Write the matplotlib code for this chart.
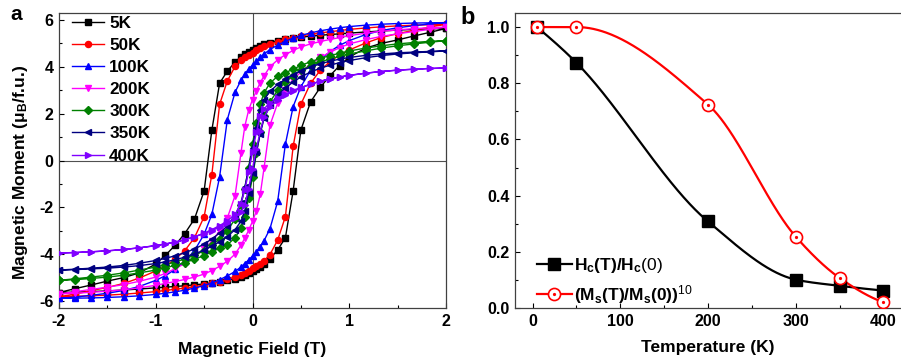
import numpy as np
import matplotlib
matplotlib.use('Agg')
import matplotlib.pyplot as plt
from matplotlib.ticker import MultipleLocator, FormatStrFormatter
from matplotlib.legend_handler import HandlerTuple
from matplotlib.lines import Line2D

plt.rcParams['font.family'] = ['Liberation Sans', 'DejaVu Sans']
plt.rcParams['font.weight'] = 'bold'
plt.rcParams['axes.unicode_minus'] = False
plt.rcParams['mathtext.fontset'] = 'custom'
plt.rcParams['mathtext.rm'] = 'Liberation Sans:normal'
plt.rcParams['mathtext.bf'] = 'Liberation Sans:bold'
plt.rcParams['mathtext.it'] = 'Liberation Sans:italic'

# ---------------- panel a data ----------------
temps = ['5K', '50K', '100K', '200K', '300K', '350K', '400K']
colors = ['#000000', '#FF0000', '#0000FF', '#FF00FF', '#008000', '#000080', '#8000FF']
markers = ['s', 'o', '^', 'v', 'D', '<', '>']

H_down = [2.0, 1.83, 1.67, 1.5, 1.33, 1.17, 1.0, 0.9, 0.8, 0.7, 0.6, 0.5, 0.42, 0.34,
          0.26, 0.18, 0.12, 0.08, 0.04, 0.0, -0.04, -0.08, -0.12, -0.18, -0.26, -0.34,
          -0.42, -0.5, -0.6, -0.7, -0.8, -0.9, -1.0, -1.17, -1.33, -1.5, -1.67, -1.83, -2.0]
H_up = [-2.0, -1.83, -1.67, -1.5, -1.33, -1.17, -1.0, -0.9, -0.8, -0.7, -0.6, -0.5, -0.42, -0.34,
        -0.26, -0.18, -0.12, -0.08, -0.04, 0.0, 0.04, 0.08, 0.12, 0.18, 0.26, 0.34,
        0.42, 0.5, 0.6, 0.7, 0.8, 0.9, 1.0, 1.17, 1.33, 1.5, 1.67, 1.83, 2.0]

M_down_5K = [5.64, 5.62, 5.60, 5.57, 5.53, 5.49, 5.44, 5.41, 5.38, 5.35, 5.31, 5.27, 5.23, 5.18,
             5.12, 5.04, 4.96, 4.90, 4.82, 4.73, 4.63, 4.53, 4.42, 4.20, 3.82, 3.30,
             1.30, -1.30, -2.50, -3.12, -3.62, -4.05, -4.42, -4.80, -5.00, -5.15, -5.32, -5.47, -5.64]
M_up_5K = [-5.64, -5.62, -5.60, -5.57, -5.53, -5.49, -5.44, -5.41, -5.38, -5.35, -5.31, -5.27, -5.23, -5.18,
           -5.12, -5.04, -4.96, -4.90, -4.82, -4.73, -4.63, -4.53, -4.42, -4.20, -3.82, -3.30,
           -1.30, 1.30, 2.50, 3.12, 3.62, 4.05, 4.42, 4.80, 5.00, 5.15, 5.32, 5.47, 5.64]

M_down_50K = [5.82, 5.80, 5.78, 5.75, 5.71, 5.66, 5.60, 5.55, 5.50, 5.45, 5.39, 5.32, 5.25, 5.17,
              5.08, 4.97, 4.87, 4.79, 4.70, 4.60, 4.50, 4.40, 4.28, 4.02, 3.40, 2.40,
              -0.60, -2.40, -3.30, -3.85, -4.22, -4.50, -4.72, -5.02, -5.25, -5.42, -5.56, -5.70, -5.82]
M_up_50K = [-5.82, -5.80, -5.78, -5.75, -5.71, -5.66, -5.60, -5.55, -5.50, -5.45, -5.39, -5.32, -5.25, -5.17,
            -5.08, -4.97, -4.87, -4.79, -4.70, -4.60, -4.50, -4.40, -4.28, -4.02, -3.40, -2.40,
            0.60, 2.40, 3.30, 3.85, 4.22, 4.50, 4.72, 5.02, 5.25, 5.42, 5.56, 5.70, 5.82]

M_down_100K = [5.89, 5.88, 5.87, 5.85, 5.82, 5.78, 5.72, 5.67, 5.61, 5.54, 5.45, 5.34, 5.23, 5.09,
               4.93, 4.74, 4.55, 4.40, 4.25, 4.08, 3.90, 3.68, 3.42, 2.92, 1.75, -0.70,
               -2.30, -3.15, -3.85, -4.30, -4.65, -4.92, -5.12, -5.38, -5.55, -5.67, -5.76, -5.83, -5.89]
M_up_100K = [-5.89, -5.88, -5.87, -5.85, -5.82, -5.78, -5.72, -5.67, -5.61, -5.54, -5.45, -5.34, -5.23, -5.09,
             -4.93, -4.74, -4.55, -4.40, -4.25, -4.08, -3.90, -3.68, -3.42, -2.92, -1.75, 0.70,
             2.30, 3.15, 3.85, 4.30, 4.65, 4.92, 5.12, 5.38, 5.55, 5.67, 5.76, 5.83, 5.89]

M_down_200K = [5.70, 5.67, 5.63, 5.58, 5.52, 5.44, 5.33, 5.25, 5.17, 5.08, 4.98, 4.85, 4.70, 4.52,
               4.30, 4.00, 3.62, 3.32, 2.98, 2.60, 2.15, 1.45, 0.30, -1.50, -2.45, -3.00,
               -3.45, -3.78, -4.12, -4.40, -4.62, -4.82, -4.98, -5.16, -5.30, -5.41, -5.51, -5.60, -5.70]
M_up_200K = [-5.70, -5.67, -5.63, -5.58, -5.52, -5.44, -5.33, -5.25, -5.17, -5.08, -4.98, -4.85, -4.70, -4.52,
             -4.30, -4.00, -3.62, -3.32, -2.98, -2.60, -2.15, -1.45, -0.30, 1.50, 2.45, 3.00,
             3.45, 3.78, 4.12, 4.40, 4.62, 4.82, 4.98, 5.16, 5.30, 5.41, 5.51, 5.60, 5.70]

M_down_300K = [5.12, 5.09, 5.04, 4.98, 4.90, 4.80, 4.68, 4.58, 4.48, 4.36, 4.22, 4.06, 3.90, 3.75,
               3.60, 3.30, 2.90, 2.40, 1.60, 0.70, -0.30, -1.20, -1.90, -2.50, -3.00, -3.35,
               -3.62, -3.85, -4.05, -4.20, -4.34, -4.45, -4.55, -4.68, -4.80, -4.90, -4.98, -5.05, -5.12]
M_up_300K = [-5.12, -5.09, -5.04, -4.98, -4.90, -4.80, -4.68, -4.58, -4.48, -4.36, -4.22, -4.06, -3.90, -3.75,
             -3.60, -3.30, -2.90, -2.40, -1.60, -0.70, 0.30, 1.20, 1.90, 2.50, 3.00, 3.35,
             3.62, 3.85, 4.05, 4.20, 4.34, 4.45, 4.55, 4.68, 4.80, 4.90, 4.98, 5.05, 5.12]

M_down_350K = [4.68, 4.66, 4.63, 4.60, 4.55, 4.49, 4.40, 4.33, 4.24, 4.13, 3.99, 3.83, 3.66, 3.47,
               3.25, 2.95, 2.60, 2.15, 1.40, 0.55, -0.35, -1.15, -1.80, -2.35, -2.80, -3.10,
               -3.35, -3.57, -3.78, -3.94, -4.07, -4.18, -4.27, -4.39, -4.48, -4.55, -4.60, -4.64, -4.68]
M_up_350K = [-4.68, -4.66, -4.63, -4.60, -4.55, -4.49, -4.40, -4.33, -4.24, -4.13, -3.99, -3.83, -3.66, -3.47,
             -3.25, -2.95, -2.60, -2.15, -1.40, -0.55, 0.35, 1.15, 1.80, 2.35, 2.80, 3.10,
             3.35, 3.57, 3.78, 3.94, 4.07, 4.18, 4.27, 4.39, 4.48, 4.55, 4.60, 4.64, 4.68]

M_down_400K = [3.95, 3.93, 3.90, 3.86, 3.80, 3.73, 3.64, 3.57, 3.49, 3.39, 3.26, 3.12, 3.00, 2.84,
               2.66, 2.45, 2.22, 1.90, 1.20, 0.35, -0.50, -1.25, -1.85, -2.30, -2.58, -2.78,
               -2.95, -3.10, -3.26, -3.38, -3.48, -3.56, -3.63, -3.73, -3.80, -3.86, -3.90, -3.93, -3.95]
M_up_400K = [-3.95, -3.93, -3.90, -3.86, -3.80, -3.73, -3.64, -3.57, -3.49, -3.39, -3.26, -3.12, -3.00, -2.84,
             -2.66, -2.45, -2.22, -1.90, -1.20, -0.35, 0.50, 1.25, 1.85, 2.30, 2.58, 2.78,
             2.95, 3.10, 3.26, 3.38, 3.48, 3.56, 3.63, 3.73, 3.80, 3.86, 3.90, 3.93, 3.95]

M_down = [M_down_5K, M_down_50K, M_down_100K, M_down_200K, M_down_300K, M_down_350K, M_down_400K]
M_up = [M_up_5K, M_up_50K, M_up_100K, M_up_200K, M_up_300K, M_up_350K, M_up_400K]

# ---------------- panel b data ----------------
T = [5, 50, 200, 300, 350, 400]
Hc_ratio = [1.0, 0.873, 0.308, 0.101, 0.079, 0.062]
Ms_ratio10 = [1.0, 1.0, 0.724, 0.254, 0.107, 0.020]


def pchip(x, y, xs):
    x = np.asarray(x, float)
    y = np.asarray(y, float)
    h = np.diff(x)
    d = np.diff(y) / h
    n = len(x)
    m = np.zeros(n)
    for k in range(1, n - 1):
        if d[k - 1] * d[k] > 0:
            w1 = 2 * h[k] + h[k - 1]
            w2 = h[k] + 2 * h[k - 1]
            m[k] = (w1 + w2) / (w1 / d[k - 1] + w2 / d[k])

    def end(h0, h1, d0, d1):
        mm = ((2 * h0 + h1) * d0 - h0 * d1) / (h0 + h1)
        if np.sign(mm) != np.sign(d0):
            mm = 0.0
        elif np.sign(d0) != np.sign(d1) and abs(mm) > abs(3 * d0):
            mm = 3 * d0
        return mm
    m[0] = end(h[0], h[1], d[0], d[1])
    m[-1] = end(h[-1], h[-2], d[-1], d[-2])
    idx = np.clip(np.searchsorted(x, xs) - 1, 0, n - 2)
    t = (xs - x[idx]) / h[idx]
    h00 = 2 * t**3 - 3 * t**2 + 1
    h10 = t**3 - 2 * t**2 + t
    h01 = -2 * t**3 + 3 * t**2
    h11 = t**3 - t**2
    return h00 * y[idx] + h10 * h[idx] * m[idx] + h01 * y[idx + 1] + h11 * h[idx] * m[idx + 1]


fig = plt.figure(figsize=(9.01, 3.63), dpi=100)
W, Hh = 901.0, 363.0
axa = fig.add_axes([59 / W, 1 - 308 / Hh, (446 - 59) / W, (308 - 13) / Hh])
axb = fig.add_axes([515 / W, 1 - 308 / Hh, (901 - 515) / W, (308 - 13) / Hh])

# ---- panel a ----
axa.axhline(0, color='#505050', lw=0.8, zorder=1)
axa.axvline(0, color='#505050', lw=0.8, zorder=1)
for i in range(len(temps)):
    xs = H_down + H_up
    ys = M_down[i] + M_up[i]
    axa.plot(xs, ys, color=colors[i], marker=markers[i], ms=4.4 if markers[i] != 'D' else 3.8,
             lw=1.0, mec=colors[i], mfc=colors[i], label=temps[i], zorder=2 + i)
axa.set_xlim(-2, 2)
axa.set_ylim(-6.3, 6.3)
axa.xaxis.set_major_locator(MultipleLocator(1))
axa.xaxis.set_minor_locator(MultipleLocator(0.5))
axa.yaxis.set_major_locator(MultipleLocator(2))
axa.yaxis.set_minor_locator(MultipleLocator(1))
axa.set_xlabel('Magnetic Field (T)', fontsize=12.5, fontweight='bold', labelpad=10)
axa.set_ylabel('Magnetic Moment (μ$_\\mathbf{B}$/f.u.)', fontsize=12.5, fontweight='bold')
axa.yaxis.set_label_coords(-0.075, 0.46)
axa.legend(loc='upper left', frameon=False, fontsize=12.3, handlelength=1.85,
           handletextpad=0.3, labelspacing=0.42, borderaxespad=0.0, borderpad=0.15,
           bbox_to_anchor=(0.028, 1.0))

# ---- panel b ----
Ts = np.linspace(T[0], T[-1], 400)
axb.plot(Ts, pchip(T, Hc_ratio, Ts), color='black', lw=1.6, zorder=2)
axb.plot(Ts, pchip(T, Ms_ratio10, Ts), color='red', lw=1.6, zorder=3)
axb.plot(T, Hc_ratio, ls='none', color='black', marker='s', ms=8.2, mfc='black',
         mec='black', zorder=4)
axb.plot(T, Ms_ratio10, ls='none', color='red', marker='o', ms=8.7, mfc='white',
         mec='red', mew=1.2, zorder=5)
axb.plot(T, Ms_ratio10, ls='none', color='red', marker='o', ms=1.3, mfc='red',
         mec='red', zorder=6)

hb = Line2D([], [], color='black', lw=1.6, marker='s', ms=8.2)
hr = Line2D([], [], color='red', lw=1.6, marker='o', ms=8.7, mfc='white', mec='red', mew=1.2)
hd = Line2D([], [], ls='none', marker='o', ms=1.3, color='red')
axb.legend([hb, (hr, hd)],
           [r'$\mathbf{H_c(T)/H_c}\mathrm{(0)}$', r'$\mathbf{(M_s(T)/M_s(0))}^{\mathrm{10}}$'],
           handler_map={tuple: HandlerTuple(ndivide=1, pad=0)},
           loc='lower left', frameon=False, fontsize=12.5, handlelength=2.0, handletextpad=0.15,
           labelspacing=0.45, borderaxespad=0.0, borderpad=0.2, numpoints=1,
           bbox_to_anchor=(0.048, -0.005))
axb.set_xlim(-20, 420)
axb.set_ylim(0, 1.05)
axb.xaxis.set_major_locator(MultipleLocator(100))
axb.xaxis.set_minor_locator(MultipleLocator(50))
axb.yaxis.set_major_locator(MultipleLocator(0.2))
axb.yaxis.set_minor_locator(MultipleLocator(0.1))
axb.yaxis.set_major_formatter(FormatStrFormatter('%.1f'))
axb.set_xlabel('Temperature (K)', fontsize=12.5, fontweight='bold', labelpad=8)
axb.spines['right'].set_visible(False)

for ax in (axa, axb):
    ax.tick_params(which='both', direction='in', top=False, right=False, labelsize=11.5, pad=4)
    ax.tick_params(which='major', length=3.5, width=0.8)
    ax.tick_params(which='minor', length=2, width=0.8)
    for lab in ax.get_xticklabels() + ax.get_yticklabels():
        lab.set_fontweight('bold')
    for s in ax.spines.values():
        s.set_linewidth(0.9)
        s.set_color('#404040')

fig.text(10 / W, 1 - 20 / Hh, 'a', fontsize=15, fontweight='bold', va='baseline')
fig.text(460 / W, 1 - 24.5 / Hh, 'b', fontsize=17, fontweight='bold', va='baseline')

fig.savefig('out.png', dpi=100)
